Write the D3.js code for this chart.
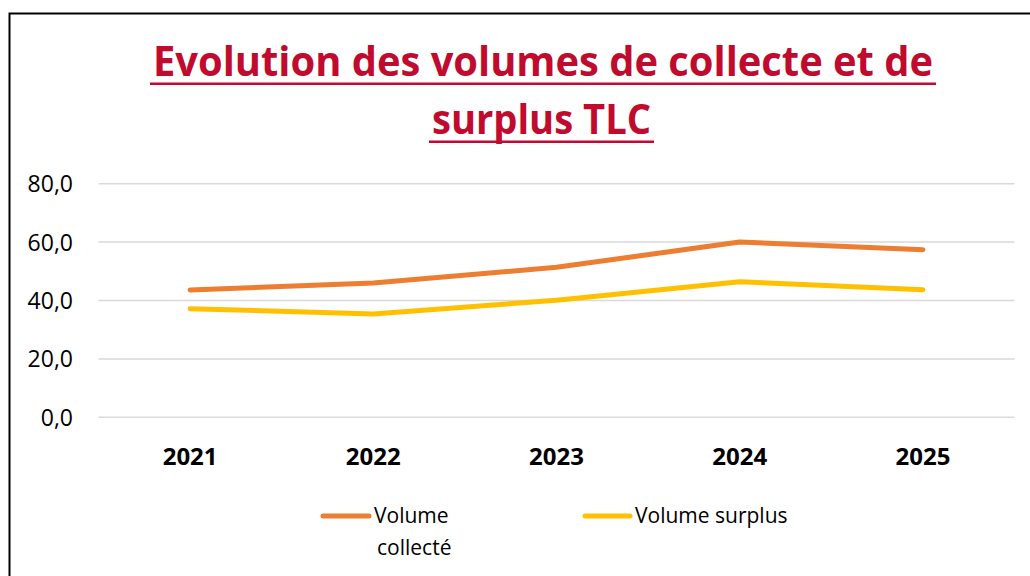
<!DOCTYPE html>
<html><head><meta charset="utf-8">
<script src="https://cdn.jsdelivr.net/npm/d3@7"></script>
<style>body{margin:0;background:#fff}svg{display:block}</style>
</head><body>
<svg id="c" width="1030" height="576"></svg>
<script>
const years = ["2021","2022","2023","2024","2025"];
const volumeCollecte = [43.6, 46.0, 51.4, 60.0, 57.4];
const volumeSurplus = [37.2, 35.4, 40.1, 46.4, 43.7];
const yTicks = [0, 20, 40, 60, 80];
const seriesNames = ["Volume collecté", "Volume surplus"];
const titleLines = ["Evolution des volumes de collecte et de", "surplus TLC"];

const svg = d3.select("#c");
const font = "'Open Sans', sans-serif";
const red = "#C00A2E";

// frame
svg.append("rect").attr("x", 9.5).attr("y", 13.5).attr("width", 1040).attr("height", 600)
  .attr("fill", "#fff").attr("stroke", "#000").attr("stroke-width", 2);

// title
const tl = [{t: titleLines[0], y: 76, x0: 153, x1: 933}, {t: titleLines[1], y: 134, x0: 432, x1: 651}];
tl.forEach(d => {
  svg.append("text").attr("x", (d.x0 + d.x1) / 2).attr("y", d.y).attr("text-anchor", "middle")
    .attr("font-family", font).attr("font-weight", 700).attr("font-size", 42).attr("fill", red)
    .attr("textLength", d.x1 - d.x0).attr("lengthAdjust", "spacingAndGlyphs").text(d.t);
  svg.append("rect").attr("x", d.x0 - 3).attr("y", d.y + 6.5).attr("width", d.x1 - d.x0 + 6).attr("height", 2.5).attr("fill", red);
});

// scales
const x = d3.scaleBand().domain(years).range([98.5, 1014.5]);
const y = d3.scaleLinear().domain([0, 80]).range([417.3, 183.7]);

// grid
svg.append("g").selectAll("line").data(yTicks).join("line")
  .attr("x1", 98.5).attr("x2", 1014.5).attr("y1", d => y(d)).attr("y2", d => y(d))
  .attr("stroke", "#D9D9D9").attr("stroke-width", 1.5);

// y axis labels
const yAxis = d3.axisLeft(y).tickValues(yTicks).tickSize(0).tickPadding(0)
  .tickFormat(d => d3.format(".1f")(d).replace(".", ","));
const gy = svg.append("g").attr("transform", "translate(73,0)").call(yAxis);
gy.select(".domain").remove();
gy.selectAll("text").attr("font-family", font).attr("font-size", 23).attr("fill", "#000").attr("dy", "0.35em");

// x axis labels
const xAxis = d3.axisBottom(x).tickSize(0).tickPadding(0);
const gx = svg.append("g").attr("transform", "translate(0,448)").call(xAxis);
gx.select(".domain").remove();
gx.selectAll("text").attr("font-family", font).attr("font-size", 24).attr("font-weight", 700).attr("fill", "#000").attr("dy", "0.71em");

// lines
const line = d3.line().x((d, i) => x(years[i]) + x.bandwidth() / 2).y(d => y(d));
const colors = ["#ED7D31", "#FFC000"];
[volumeCollecte, volumeSurplus].forEach((s, i) => {
  svg.append("path").datum(s).attr("d", line).attr("fill", "none")
    .attr("stroke", colors[i]).attr("stroke-width", 5).attr("stroke-linecap", "round").attr("stroke-linejoin", "round");
});

// legend
const leg = [{x0: 323, x1: 369, tx: 374, lines: ["Volume", "collecté"], dx: [0, 3]},
             {x0: 585, x1: 630, tx: 635, lines: ["Volume surplus"], dx: [0]}];
leg.forEach((l, i) => {
  svg.append("line").attr("x1", l.x0).attr("x2", l.x1).attr("y1", 516).attr("y2", 516)
    .attr("stroke", colors[i]).attr("stroke-width", 5).attr("stroke-linecap", "round");
  l.lines.forEach((t, j) => {
    svg.append("text").attr("x", l.tx + l.dx[j]).attr("y", 523 + j * 32)
      .attr("font-family", font).attr("font-size", 21).attr("fill", "#000").text(t);
  });
});
</script>
</body></html>
